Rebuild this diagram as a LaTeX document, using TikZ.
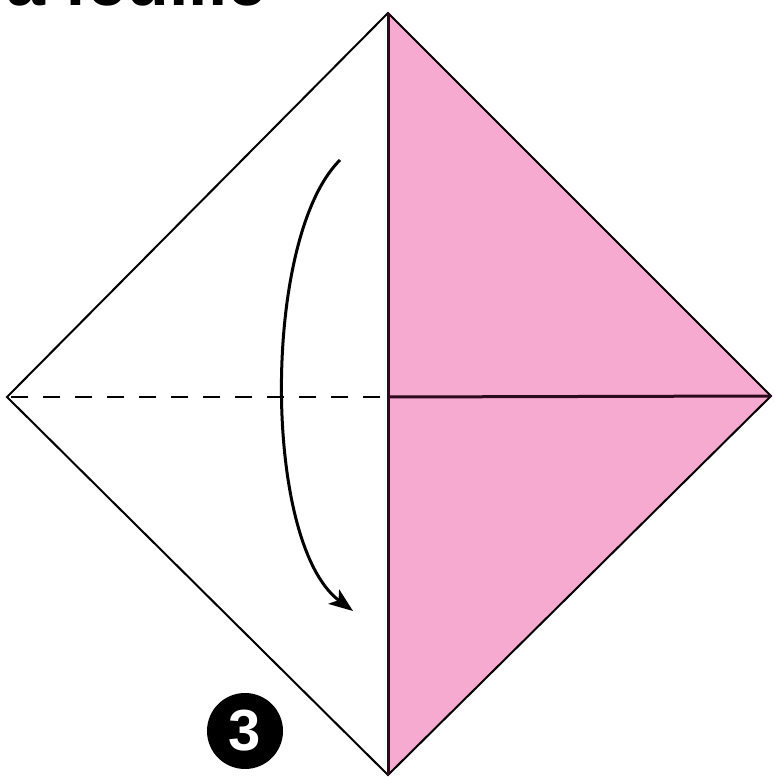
\documentclass[tikz,border=0pt]{standalone}
\usepackage{fontspec}
\setmainfont{Liberation Sans}
\usetikzlibrary{arrows.meta}
\definecolor{rosacarta}{RGB}{246,170,208}
\definecolor{pieganera}{RGB}{43,10,30}
\begin{document}
\begin{tikzpicture}[x=1pt,y=1pt,
        bordo/.style={line width=2pt,black,line join=miter},
        piega/.style={line width=3pt,pieganera},
        valle/.style={line width=2.2pt,black,dash pattern=on 17pt off 15pt,dash phase=24pt},
        freccia/.style={line width=3pt,-{Stealth[length=24pt,width=18pt,inset=6pt]}},
        passo/.style={circle,fill=black,minimum size=76pt,inner sep=0pt,
            text=white,font=\fontsize{58}{58}\selectfont\bfseries}]

        % Riquadro dell'immagine (775 x 777)
        \useasboundingbox (0,0) rectangle (775,777);

        % Titolo tagliato in alto
        \node[anchor=base west,inner sep=0pt,font=\fontsize{70}{80}\selectfont\bfseries] (titolo) at (6,771) {a feuille};

        % Vertici del foglio
        \coordinate (alto) at (388,764);
        \coordinate (sinistra) at (7,380);
        \coordinate (destra) at (771,381);
        \coordinate (basso) at (388,2);
        \coordinate (centro) at (388,380);

        % Meta destra colorata
        \fill[rosacarta] (alto) -- (destra) -- (basso) -- cycle;

        % Perimetro del foglio
        \draw[bordo] (alto) -- (destra) -- (basso) -- (sinistra) -- cycle;

        % Piega orizzontale: tratteggiata a sinistra, piena a destra
        \draw[valle] (centro) -- (sinistra);
        \draw[piega] (centro) -- (destra);

        % Piega verticale centrale
        \draw[piega] (alto) -- (basso);

        % Freccia curva verso il basso
        \coordinate (inizio) at (340,617);
        \coordinate (fine) at (353,166);
        \draw[freccia] (inizio) .. controls (262,540) and (262,234) .. (fine);

        % Numero del passo
        \node[passo] (numero) at (245,46) {3};

    \end{tikzpicture}
\end{document}
